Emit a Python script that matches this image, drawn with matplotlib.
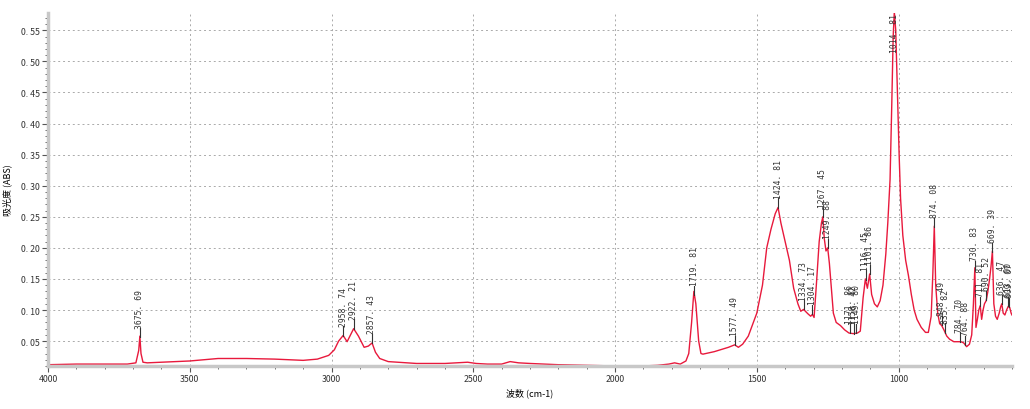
import numpy as np
import matplotlib.pyplot as plt
from matplotlib.ticker import MultipleLocator, FuncFormatter

plt.rcParams['font.family'] = ['Noto Sans CJK SC', 'DejaVu Sans']

# spektrum (bilangan gelombang, absorbansi)
wavenumber = [4000, 3900, 3800, 3720, 3690, 3680, 3676, 3672, 3665, 3650, 3600, 3500,
              3400, 3300, 3200, 3100, 3050, 3010, 2990, 2975, 2959, 2945, 2935, 2922,
              2905, 2885, 2870, 2857, 2845, 2830, 2800, 2700, 2600, 2520, 2490, 2450,
              2400, 2370, 2340, 2300, 2200, 2100, 2000, 1900, 1850, 1810, 1790, 1770,
              1750, 1740, 1730, 1722, 1715, 1705, 1697, 1690, 1650, 1600, 1578, 1565,
              1550, 1530, 1500, 1480, 1465, 1450, 1435, 1425, 1415, 1400, 1385, 1370,
              1355, 1345, 1335, 1320, 1310, 1304, 1298, 1290, 1280, 1272, 1267, 1262,
              1256, 1250, 1244, 1238, 1230, 1220, 1205, 1190, 1175, 1160, 1145, 1135,
              1125, 1117, 1110, 1102, 1095, 1085, 1075, 1065, 1055, 1045, 1038, 1030,
              1024, 1019, 1015, 1010, 1004, 998, 993, 985, 975, 965, 955, 945, 935, 920,
              905, 895, 885, 879, 874, 869, 862, 855, 848, 840, 830, 820, 805, 790, 780,
              770, 760, 750, 742, 736, 731, 727, 722, 717, 712, 707, 702, 697, 691, 685,
              679, 674, 669, 664, 658, 652, 645, 640, 636, 631, 625, 619, 613, 608, 603,
              600]
absorbance = [0.012, 0.013, 0.013, 0.013, 0.015, 0.035, 0.058, 0.030, 0.016, 0.015, 0.016, 0.018,
              0.022, 0.022, 0.021, 0.019, 0.021, 0.027, 0.036, 0.050, 0.059, 0.049, 0.058, 0.070,
              0.058, 0.040, 0.042, 0.047, 0.032, 0.022, 0.017, 0.014, 0.014, 0.016, 0.014, 0.013,
              0.013, 0.017, 0.015, 0.014, 0.012, 0.011, 0.010, 0.010, 0.011, 0.013, 0.015, 0.013,
              0.018, 0.030, 0.080, 0.130, 0.110, 0.050, 0.030, 0.029, 0.033, 0.040, 0.044, 0.040,
              0.045, 0.058, 0.095, 0.140, 0.200, 0.230, 0.255, 0.265, 0.240, 0.210, 0.180, 0.135,
              0.110, 0.098, 0.101, 0.094, 0.090, 0.093, 0.088, 0.140, 0.210, 0.240, 0.250, 0.215,
              0.195, 0.200, 0.175, 0.140, 0.095, 0.080, 0.075, 0.068, 0.063, 0.062, 0.063, 0.066,
              0.120, 0.150, 0.135, 0.158, 0.125, 0.110, 0.105, 0.115, 0.140, 0.190, 0.240, 0.310,
              0.430, 0.540, 0.580, 0.550, 0.450, 0.350, 0.280, 0.220, 0.180, 0.155, 0.125, 0.100, 0.085, 0.072,
              0.064, 0.064, 0.090, 0.160, 0.235, 0.140, 0.095, 0.078, 0.075, 0.068, 0.058, 0.053, 0.049, 0.049, 0.049,
              0.047, 0.041, 0.045, 0.060, 0.110, 0.168, 0.072, 0.085, 0.100, 0.107, 0.085, 0.100, 0.110, 0.115, 0.130,
              0.150, 0.170, 0.195, 0.110, 0.090, 0.085, 0.095, 0.105, 0.110, 0.095, 0.092, 0.100, 0.106, 0.104, 0.095,
              0.092]

# label puncak
peaks = [3675.69, 2958.74, 2922.21, 2857.43, 1719.81, 1577.49, 1424.81, 1334.73,
         1304.17, 1267.45, 1249.88, 1171.86, 1158.42, 1149.80, 1116.45, 1101.86,
         1014.81, 874.08, 848.49, 835.82, 784.70, 764.88, 730.83, 711.81, 690.52,
         669.39, 636.47, 613.00, 609.07]

ymin, ymax = 0.01, 0.578

fig = plt.figure(figsize=(10.3, 4.1), dpi=100)
ax = fig.add_axes([0.0466, 0.105, 0.9359, 0.861])

ax.plot(wavenumber, absorbance, color='#e8193c', lw=1.0)

wn_sorted = np.array(wavenumber)[::-1]
ab_sorted = np.array(absorbance)[::-1]
for p in peaks:
    yp = float(np.interp(p, wn_sorted, ab_sorted))
    label = f"{p:.2f}".replace('.', '. ')
    if yp + 0.06 > ymax:
        ax.text(p, ymax, label, rotation=90, ha='center', va='top',
                fontsize=5.8, family='DejaVu Sans Mono', color='#333333')
        continue
    ax.plot([p, p], [yp, yp + 0.015], color='#333333', lw=0.8)
    ax.text(p, yp + 0.016, label, rotation=90, ha='center', va='bottom',
            fontsize=5.8, family='DejaVu Sans Mono', color='#333333')

ax.set_xlim(4000, 600)
ax.set_ylim(ymin, ymax)
ax.xaxis.set_major_locator(MultipleLocator(500))
ax.xaxis.set_minor_locator(MultipleLocator(100))
ax.yaxis.set_minor_locator(MultipleLocator(0.01))
ax.yaxis.set_major_formatter(FuncFormatter(lambda v, _: f"{v:.2f}".replace('.', '. ')))
ax.set_yticks([0.05 * i for i in range(1, 12)])

ax.grid(True, which='major', ls=(0, (2, 3)), color='#aaaaaa', lw=0.7)
ax.spines[['top', 'right']].set_visible(False)
ax.spines['left'].set_color('#c8c8c8')
ax.spines['left'].set_linewidth(2.5)
ax.spines['bottom'].set_color('#c8c8c8')
ax.spines['bottom'].set_linewidth(2.5)
ax.tick_params(axis='both', which='major', labelsize=6.3, length=4, color='#555555',
               width=0.8, pad=2, labelcolor='#333333')
ax.tick_params(axis='both', which='minor', length=2, color='#555555', width=0.6)

ax.set_xlabel('波数 (cm-1)', fontsize=6.5, labelpad=3)
ax.set_ylabel('吸光度 (ABS)', fontsize=6.5, labelpad=6)

fig.savefig('out.png', dpi=100)
